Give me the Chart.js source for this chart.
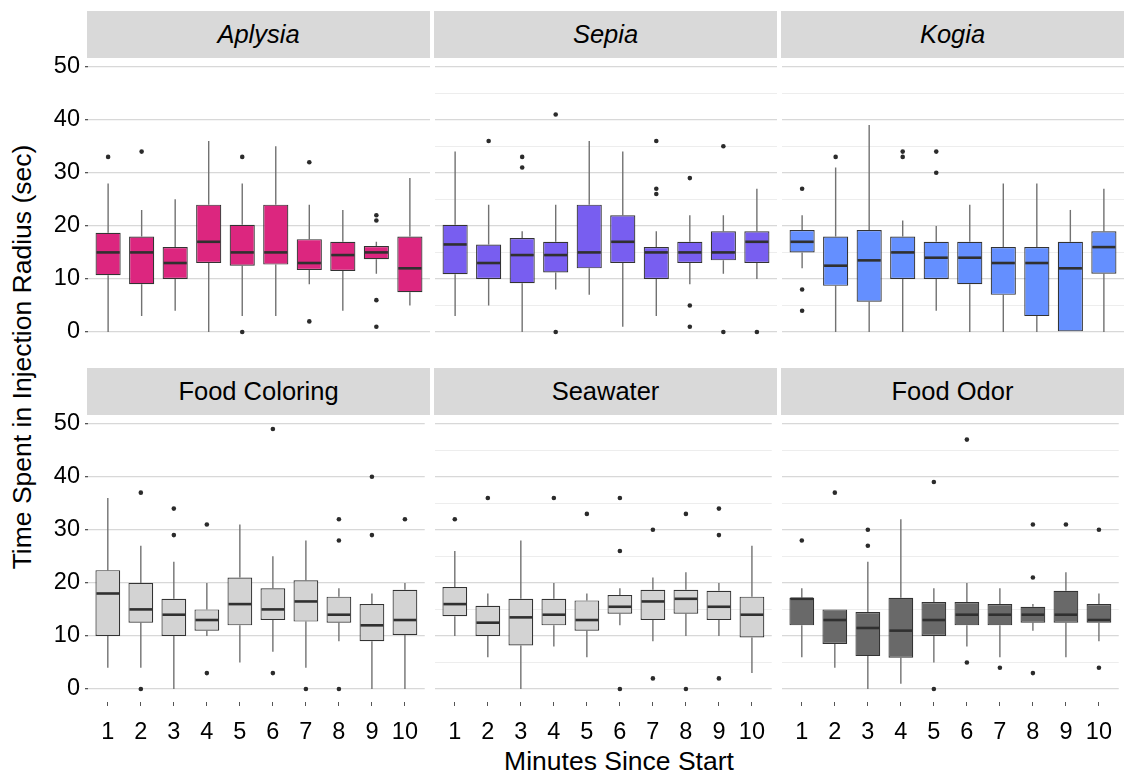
<!DOCTYPE html>
<html>
<head>
<meta charset="utf-8">
<script src="https://cdn.jsdelivr.net/npm/chart.js@4.4.1/dist/chart.umd.min.js"></script>
<style>
  body { margin: 0; background: #fff; width: 1126px; height: 776px; position: relative; overflow: hidden;
         font-family: "Liberation Sans", Arial, sans-serif; }
  .strip { position: absolute; background: #d9d9d9; color: #000; font-size: 25.5px;
           display: flex; align-items: center; justify-content: center; }
  .strip.it { font-style: italic; }
  canvas { position: absolute; }
  .ttl { position: absolute; font-size: 26.5px; white-space: nowrap; color: #000; }
</style>
</head>
<body>
<div class="ttl" id="ytitle" style="left:22px; top:356.5px; transform: translate(-50%,-50%) rotate(-90deg);">Time Spent in Injection Radius (sec)</div>
<div class="ttl" id="xtitle" style="left:619px; top:761px; transform: translate(-50%,-50%);">Minutes Since Start</div>
<script>
// minutes on the x axis, shared by every panel
const minutes = [1, 2, 3, 4, 5, 6, 7, 8, 9, 10]

// box stats: whisker ends, quartiles, median, outliers
const aplysiaLo  = [0, 3, 4, 0, 3, 3, 9, 4, 11, 5]
const aplysiaQ1  = [10.7, 9, 10, 13, 12.5, 12.7, 11.7, 11.5, 13.7, 7.5]
const aplysiaMed = [15, 15, 13, 17, 15, 15, 13, 14.5, 15, 12]
const aplysiaQ3  = [18.7, 18, 16, 24, 20.2, 24, 17.5, 17, 16.2, 18]
const aplysiaHi  = [28, 23, 25, 36, 28, 35, 24, 23, 17, 29]
const aplysiaOut = [[33], [34], [], [], [33, 0], [], [32, 2], [], [22, 21, 6, 1], []]

const sepiaLo  = [3, 5, 0, 8, 7, 1, 3, 9, 11, 10]
const sepiaQ1  = [10.9, 10, 9.2, 11.2, 12, 13, 10, 13, 13.5, 13]
const sepiaMed = [16.5, 13, 14.5, 14.5, 15, 17, 15, 15, 15, 17]
const sepiaQ3  = [20.2, 16.5, 17.7, 17, 24, 22, 16, 17, 19, 19]
const sepiaHi  = [34, 24, 19, 24, 36, 34, 19, 22, 22, 27]
const sepiaOut = [[], [36], [33, 31], [41, 0], [], [], [36, 27, 26], [29, 5, 1], [35, 0], [0]]

const kogiaLo  = [12, 0, 0, 0, 4, 0, 0, 0, 0, 0]
const kogiaQ1  = [15, 8.7, 5.7, 10, 10, 9, 7, 3, 0, 11]
const kogiaMed = [17, 12.5, 13.5, 15, 14, 14, 13, 13, 12, 16]
const kogiaQ3  = [19.2, 18, 19.2, 18, 17, 17, 16, 16, 17, 19]
const kogiaHi  = [22, 31, 39, 21, 20, 24, 28, 28, 23, 27]
const kogiaOut = [[27, 8, 4], [33], [], [34, 33], [34, 30], [], [], [], [], []]

const coloringLo  = [4, 4, 0, 10, 5, 7, 4, 9, 0, 0]
const coloringQ1  = [10, 12.5, 10, 11, 12, 13, 12.7, 12.5, 9, 10.2]
const coloringMed = [18, 15, 14, 13, 16, 15, 16.5, 14, 12, 13]
const coloringQ3  = [22.4, 20, 17, 15, 21, 19, 20.5, 17.4, 16, 18.7]
const coloringHi  = [36, 27, 24, 20, 31, 25, 28, 19, 18, 20]
const coloringOut = [[], [37, 0], [34, 29], [31, 3], [], [49, 3], [0], [32, 28, 0], [40, 29], [32]]

const seawaterLo  = [10, 6, 0, 8, 6, 12, 9, 10, 10, 3]
const seawaterQ1  = [13.7, 10, 8.2, 12, 11, 14.2, 13, 14.2, 13, 9.7]
const seawaterMed = [16, 12.5, 13.5, 14, 13, 15.5, 16.5, 17, 15.5, 14]
const seawaterQ3  = [19.2, 15.7, 17, 17, 16.7, 17.7, 18.7, 18.7, 18.5, 17.4]
const seawaterHi  = [26, 18, 28, 20, 18, 19, 21, 22, 20, 27]
const seawaterOut = [[32], [36], [], [36], [33], [36, 26, 0], [30, 2], [33, 0], [34, 29, 2], []]

const odorLo  = [6, 4, 0, 1, 5, 8, 6, 11, 6, 9]
const odorQ1  = [12, 8.5, 6.2, 5.9, 10, 12, 12, 12.5, 12.5, 12.5]
const odorMed = [17, 13, 11.5, 11, 13, 14, 14, 14, 14, 13]
const odorQ3  = [17.2, 15, 14.5, 17.2, 16.4, 16.4, 16, 15.5, 18.5, 16]
const odorHi  = [19, 15, 24, 32, 19, 20, 19, 16, 22, 18]
const odorOut = [[28], [37], [30, 27], [], [39, 0], [47, 5], [4], [31, 21, 3], [31], [30, 4]]

const yTicks = [0, 10, 20, 30, 40, 50]

// panel grid in page pixels
const colLeft = [88, 435, 782]
const rowTop = [59, 416]
const plotW = 342, plotH = 286
// padding keeps the y labels' overhang from squeezing the plot area
const padTop = 24, padBottom = 28, yAxisW = 58, xAxisH = 48

Chart.defaults.font.family = '"Liberation Sans", Arial, sans-serif'

// whiskers under the boxes, medians on top, both placed via the chart's scales
const boxWhiskers = {
  id: 'boxWhiskers',
  beforeDatasetsDraw(chart) {
    const ds = chart.data.datasets[0]
    const xs = chart.scales.x, ys = chart.scales.y, ctx = chart.ctx
    ctx.save()
    ctx.strokeStyle = '#727272'
    ctx.lineWidth = 1.4
    ds.data.forEach((d, i) => {
      const x = xs.getPixelForValue(d.x)
      ctx.beginPath()
      ctx.moveTo(x, ys.getPixelForValue(ds.hi[i]))
      ctx.lineTo(x, ys.getPixelForValue(d.y[1]))
      ctx.moveTo(x, ys.getPixelForValue(d.y[0]))
      ctx.lineTo(x, ys.getPixelForValue(ds.lo[i]))
      ctx.stroke()
    })
    ctx.restore()
  },
  afterDatasetsDraw(chart) {
    const ds = chart.data.datasets[0]
    const ys = chart.scales.y, ctx = chart.ctx
    ctx.save()
    ctx.strokeStyle = '#303030'
    ctx.lineWidth = 2.6
    chart.getDatasetMeta(0).data.forEach((bar, i) => {
      const y = ys.getPixelForValue(ds.med[i])
      ctx.beginPath()
      ctx.moveTo(bar.x - bar.width / 2 + 1, y)
      ctx.lineTo(bar.x + bar.width / 2 - 1, y)
      ctx.stroke()
    })
    ctx.restore()
  },
}

function addStrip(label, italic, col, row) {
  const d = document.createElement('div')
  d.className = 'strip' + (italic ? ' it' : '')
  d.textContent = label
  d.style.left = (colLeft[col] - 1) + 'px'
  d.style.width = (plotW + 1) + 'px'
  d.style.top = (rowTop[row] - 48) + 'px'
  d.style.height = '47px'
  document.body.appendChild(d)
}

function addPanel(col, row, color, lo, q1, med, q3, hi, out) {
  const showY = col === 0
  const showX = row === 1
  const cv = document.createElement('canvas')
  const w = plotW + (showY ? yAxisW : 0)
  const h = padTop + plotH + (showX ? xAxisH : 0) + padBottom
  cv.width = w
  cv.height = h
  cv.style.left = (colLeft[col] - (showY ? yAxisW : 0)) + 'px'
  cv.style.top = (rowTop[row] - padTop) + 'px'
  cv.style.width = w + 'px'
  cv.style.height = h + 'px'
  document.body.appendChild(cv)

  const outPts = []
  out.forEach((vals, i) => vals.forEach(v => outPts.push({ x: minutes[i], y: v })))

  new Chart(cv, {
    type: 'bar',
    data: {
      datasets: [
        {
          type: 'bar',
          data: minutes.map((m, i) => ({ x: m, y: [q1[i], q3[i]] })),
          lo, med, hi,
          backgroundColor: color,
          borderColor: '#333333',
          borderWidth: 1.2,
          borderSkipped: false,
          barPercentage: 0.75,
          categoryPercentage: 1,
          order: 1,
        },
        {
          type: 'scatter',
          data: outPts,
          pointRadius: 2.3,
          pointBackgroundColor: '#2b2b2b',
          pointBorderWidth: 0,
          order: 0,
        },
      ],
    },
    options: {
      responsive: false,
      animation: false,
      events: [],
      layout: { padding: { top: padTop, left: 0, right: 0, bottom: padBottom }, autoPadding: false },
      plugins: { legend: { display: false }, tooltip: { enabled: false } },
      scales: {
        x: {
          type: 'linear', min: 0.4, max: 10.6, offset: false, display: showX,
          grid: { display: true, offset: false, drawOnChartArea: false, drawTicks: true, tickLength: 4, tickColor: '#555' },
          border: { display: false },
          ticks: { stepSize: 1, includeBounds: false, autoSkip: false, maxRotation: 0, padding: 12,
                   color: '#000', font: { size: 23.5 } },
          afterFit: s => { s.height = showX ? xAxisH : 0 },
        },
        y: {
          type: 'linear', min: -2.45, max: 51.45,
          grid: {
            color: c => yTicks.includes(c.tick.value) ? '#d8d8d8' : '#ededed',
            lineWidth: c => yTicks.includes(c.tick.value) ? 1.3 : 1,
            drawTicks: showY, tickLength: 3,
            tickColor: c => yTicks.includes(c.tick.value) ? '#555' : 'rgba(0,0,0,0)',
          },
          border: { display: false },
          ticks: {
            display: showY, stepSize: 5, includeBounds: false, padding: 5,
            color: '#000', font: { size: 23.5 },
            callback: v => yTicks.includes(v) ? String(v) : '',
          },
          afterFit: s => { s.width = showY ? yAxisW : 0 },
        },
      },
    },
    plugins: [boxWhiskers],
  })
}

addStrip('Aplysia', true, 0, 0)
addStrip('Sepia', true, 1, 0)
addStrip('Kogia', true, 2, 0)
addStrip('Food Coloring', false, 0, 1)
addStrip('Seawater', false, 1, 1)
addStrip('Food Odor', false, 2, 1)

addPanel(0, 0, '#dc267f', aplysiaLo, aplysiaQ1, aplysiaMed, aplysiaQ3, aplysiaHi, aplysiaOut)
addPanel(1, 0, '#785ef0', sepiaLo, sepiaQ1, sepiaMed, sepiaQ3, sepiaHi, sepiaOut)
addPanel(2, 0, '#648fff', kogiaLo, kogiaQ1, kogiaMed, kogiaQ3, kogiaHi, kogiaOut)
addPanel(0, 1, '#d3d3d3', coloringLo, coloringQ1, coloringMed, coloringQ3, coloringHi, coloringOut)
addPanel(1, 1, '#d3d3d3', seawaterLo, seawaterQ1, seawaterMed, seawaterQ3, seawaterHi, seawaterOut)
addPanel(2, 1, '#696969', odorLo, odorQ1, odorMed, odorQ3, odorHi, odorOut)
</script>
</body>
</html>
